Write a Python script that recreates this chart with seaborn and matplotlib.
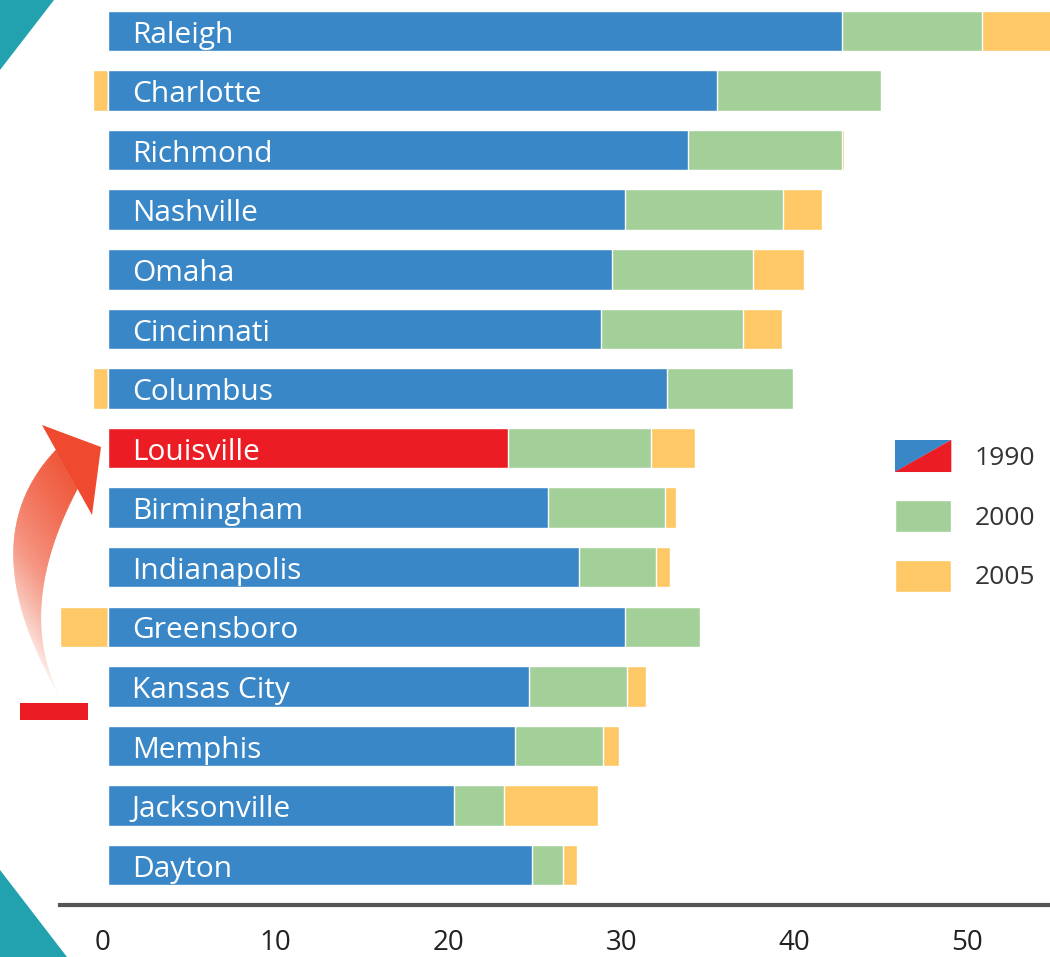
import numpy as np
import pandas as pd
import seaborn as sns
import matplotlib.pyplot as plt
from matplotlib.patches import Patch, Polygon, Rectangle
from matplotlib.collections import PolyCollection
from matplotlib.colors import to_rgb
from matplotlib.transforms import ScaledTranslation

# values (percentage points per period)
cities = ["Raleigh", "Charlotte", "Richmond", "Nashville", "Omaha", "Cincinnati",
          "Columbus", "Louisville", "Birmingham", "Indianapolis", "Greensboro",
          "Kansas City", "Memphis", "Jacksonville", "Dayton"]
v1990 = [42.4, 35.2, 33.5, 29.9, 29.1, 28.5, 32.3, 23.1, 25.4, 27.2, 29.9, 24.3, 23.5, 20.0, 24.5]
v2000 = [8.1, 9.5, 8.9, 9.1, 8.2, 8.2, 7.3, 8.3, 6.8, 4.45, 4.3, 5.7, 5.1, 2.9, 1.8]
v2005 = [4.5, -0.9, 0.15, 2.25, 2.9, 2.25, -0.9, 2.5, 0.6, 0.8, -2.8, 1.1, 0.9, 5.4, 0.8]
xticks = [0, 10, 20, 30, 40, 50]
highlight = "Louisville"

BLUE = "#3a87c8"
RED = "#ec1c24"
GREEN = "#a3cf98"
YELLOW = "#fdc865"
TEAL = "#22a2ae"

df = pd.DataFrame({"city": cities, "y1990": v1990, "y2000": v2000, "y2005": v2005})
df["end2000"] = df["y1990"] + df["y2000"]
# 2005 change: stacked on the right if positive, drawn left of zero if negative
df["end2005"] = np.where(df["y2005"] > 0, df["end2000"] + df["y2005"], df["y2005"])

sns.set_theme(style="white")
plt.rcParams["font.family"] = ["Open Sans", "DejaVu Sans"]

W, H = 1050, 957
fig = plt.figure(figsize=(W / 100, H / 100), dpi=100)
ax = fig.add_axes([60 / W, 52 / H, 990 / W, 905 / H])

bw = 0.68
sns.barplot(data=df, x="end2005", y="city", hue="city", palette=[YELLOW] * len(cities),
            legend=False, width=bw, saturation=1, orient="h", ax=ax)
sns.barplot(data=df, x="end2000", y="city", hue="city", palette=[GREEN] * len(cities),
            legend=False, width=bw, saturation=1, orient="h", ax=ax)
base_cols = [RED if c == highlight else BLUE for c in cities]
sns.barplot(data=df, x="y1990", y="city", hue="city", palette=base_cols,
            legend=False, width=bw, saturation=1, orient="h", ax=ax)

for i, c in enumerate(cities):
    ax.text(1.35, i + 0.07, c, va="center", ha="left", color="white", fontsize=21.5)

ax.set_xlim(-2.8, 54.45)
ax.set_ylim(len(cities) - 0.33, -0.52)
ax.set_xticks(xticks)
ax.set_xticklabels([str(t) for t in xticks])
ax.set_yticks([])
ax.set_xlabel("")
ax.set_ylabel("")
ax.tick_params(axis="x", length=0, pad=17, labelsize=20, labelcolor="#222222")
shift = ScaledTranslation(-6 / 100, 0, fig.dpi_scale_trans)
for lab in ax.get_xticklabels():
    lab.set_transform(lab.get_transform() + shift)
for s in ["top", "right", "left"]:
    ax.spines[s].set_visible(False)
ax.spines["bottom"].set_color("#555555")
ax.spines["bottom"].set_linewidth(3)


class DiagHandler:
    def legend_artist(self, legend, orig_handle, fontsize, handlebox):
        x0, y0 = -handlebox.xdescent, -handlebox.ydescent
        w, h = handlebox.width, handlebox.height
        tr = handlebox.get_transform()
        p1 = Polygon([[x0, y0], [x0, y0 + h], [x0 + w, y0 + h]], closed=True,
                     facecolor=BLUE, edgecolor="none", transform=tr)
        p2 = Polygon([[x0, y0], [x0 + w, y0 + h], [x0 + w, y0]], closed=True,
                     facecolor=RED, edgecolor="none", transform=tr)
        handlebox.add_artist(p1)
        handlebox.add_artist(p2)
        return p1


h1990 = Patch(facecolor=BLUE)
handles = [h1990, Patch(facecolor=GREEN), Patch(facecolor=YELLOW)]
leg = ax.legend(handles, ["1990", "2000", "2005"], handler_map={h1990: DiagHandler()},
                loc="upper left", bbox_to_anchor=(0.843, 0.514), frameon=False,
                fontsize=19, handlelength=2.15, handleheight=1.5, labelspacing=1.05,
                handletextpad=0.87, borderpad=0, borderaxespad=0)
for t in leg.get_texts():
    t.set_color("#333333")


# decorations, placed in pixel terms of the 1050x957 canvas
def fx(x, y):
    return (x / W, 1 - y / H)


tf = fig.transFigure
fig.add_artist(Polygon([fx(0, 0), fx(54, 0), fx(0, 70)], closed=True,
                       facecolor=TEAL, edgecolor="none", transform=tf))
fig.add_artist(Polygon([fx(0, 870), fx(67, 957), fx(0, 957)], closed=True,
                       facecolor=TEAL, edgecolor="none", transform=tf))
fig.add_artist(Rectangle(fx(20, 720), 68 / W, 17 / H, facecolor=RED,
                         edgecolor="none", transform=tf))


# curved arrow fading out towards the bottom
def bez(p0, c, p2, t):
    p0, c, p2 = map(np.asarray, (p0, c, p2))
    t = t[:, None]
    return (1 - t) ** 2 * p0 + 2 * (1 - t) * t * c + t ** 2 * p2


t = np.linspace(0, 1, 120)
outer = bez((58, 693), (-30, 540), (56, 450), t)
inner = bez((58, 693), (15, 604), (80, 484), t)
light = np.array(to_rgb("#fde9e2"))
dark = np.array(to_rgb("#ef5234"))
quads, cols = [], []
for i in range(len(t) - 1):
    q = [outer[i], outer[i + 1], inner[i + 1], inner[i]]
    quads.append([fx(x, y) for x, y in q])
    f = t[i]
    c = light * (1 - f) + dark * f
    cols.append((*c, min(1.0, 0.1 + 1.6 * f)))
fig.add_artist(PolyCollection(quads, facecolors=cols, edgecolors=cols, linewidths=0.3,
                              transform=tf))
fig.add_artist(Polygon([fx(42, 425), fx(101, 447), fx(92, 515)], closed=True,
                       facecolor="#ef4a2f", edgecolor="none", transform=tf))

fig.savefig("out.png", dpi=100)
